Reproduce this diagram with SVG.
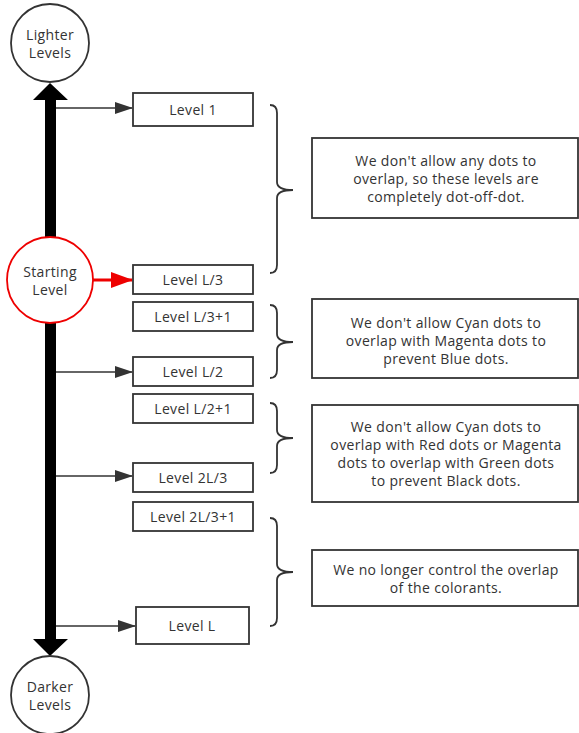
<svg xmlns="http://www.w3.org/2000/svg" width="579" height="733" viewBox="0 0 579 733">
<style>
text{font-family:"Open Sans","Noto Sans","DejaVu Sans",sans-serif;fill:#333;text-anchor:middle;font-size:14px;letter-spacing:0.35px}
.box{fill:#fff;stroke:#333;stroke-width:1.8}
.circ{fill:#fff;stroke:#333;stroke-width:1.8}
.conn{stroke:#333;stroke-width:1.5;fill:none}
.brace{stroke:#333;stroke-width:1.8;fill:none}
</style>
<defs>
<marker id="ah" markerWidth="18" markerHeight="12" refX="17" refY="6" orient="auto" markerUnits="userSpaceOnUse">
<path d="M0,0 L18,6 L0,12 Z" fill="#333"/>
</marker>
<marker id="ahr" markerWidth="22" markerHeight="16" refX="21" refY="8" orient="auto" markerUnits="userSpaceOnUse">
<path d="M0,0 L22,8 L0,16 Z" fill="#e00"/>
</marker>
</defs>
<g id="connectors">
<path d="M45,100 L33,100 L50,83 L68,100 L56,100 L56,639 L68,639 L50,656 L33,639 L45,639 Z" fill="#000"/>
<line class="conn" x1="56" y1="108" x2="132" y2="108" marker-end="url(#ah)"/>
<line class="conn" x1="56" y1="372" x2="132" y2="372" marker-end="url(#ah)"/>
<line class="conn" x1="56" y1="476" x2="132" y2="476" marker-end="url(#ah)"/>
<line class="conn" x1="56" y1="626" x2="135" y2="626" marker-end="url(#ah)"/>
<line x1="93" y1="280" x2="132" y2="280" stroke="#e00" stroke-width="3" marker-end="url(#ahr)"/>
<path class="brace" d="M270,105 Q277,105 277,113 L277,182 Q277,190 293,190 Q277,190 277,198 L277,265 Q277,273 270,273"/>
<path class="brace" d="M270,305 Q277,305 277,313 L277,334 Q277,342 293,342 Q277,342 277,350 L277,370 Q277,378 270,378"/>
<path class="brace" d="M270,403 Q277,403 277,411 L277,430 Q277,438 293,438 Q277,438 277,446 L277,465 Q277,473 270,473"/>
<path class="brace" d="M270,518 Q277,518 277,526 L277,564 Q277,572 293,572 Q277,572 277,580 L277,618 Q277,626 270,626"/>
</g>
<g id="lighter">
<circle class="circ" cx="50" cy="43" r="39"/>
<text x="50" y="40">Lighter</text>
<text x="50" y="58">Levels</text>
</g>
<g id="starting">
<circle cx="50" cy="280" r="43" fill="#fff" stroke="#e00" stroke-width="1.8"/>
<text x="50" y="277">Starting</text>
<text x="50" y="295">Level</text>
</g>
<g id="darker">
<circle class="circ" cx="50" cy="695" r="39"/>
<text x="50" y="692">Darker</text>
<text x="50" y="710">Levels</text>
</g>
<g id="level1"><rect class="box" x="133" y="93" width="120" height="33"/><text x="193" y="115">Level 1</text></g>
<g id="levelL3"><rect class="box" x="133" y="265" width="120" height="29"/><text x="193" y="285">Level L/3</text></g>
<g id="levelL3p1"><rect class="box" x="133" y="302" width="120" height="29"/><text x="193" y="322">Level L/3+1</text></g>
<g id="levelL2"><rect class="box" x="133" y="357" width="120" height="29"/><text x="193" y="377">Level L/2</text></g>
<g id="levelL2p1"><rect class="box" x="133" y="394" width="120" height="29"/><text x="193" y="414">Level L/2+1</text></g>
<g id="level2L3"><rect class="box" x="133" y="463" width="120" height="29"/><text x="193" y="483">Level 2L/3</text></g>
<g id="level2L3p1"><rect class="box" x="133" y="502" width="120" height="29"/><text x="193" y="522">Level 2L/3+1</text></g>
<g id="levelL"><rect class="box" x="136" y="607" width="113" height="37"/><text x="192" y="631">Level L</text></g>
<g id="note1"><rect class="box" x="312" y="138" width="266" height="80"/>
<text x="446" y="166">We don't allow any dots to</text>
<text x="446" y="184">overlap, so these levels are</text>
<text x="446" y="202">completely dot-off-dot.</text></g>
<g id="note2"><rect class="box" x="312" y="299" width="266" height="79"/>
<text x="446" y="328">We don't allow Cyan dots to</text>
<text x="446" y="346">overlap with Magenta dots to</text>
<text x="446" y="364">prevent Blue dots.</text></g>
<g id="note3"><rect class="box" x="312" y="405" width="266" height="97"/>
<text x="446" y="432">We don't allow Cyan dots to</text>
<text x="446" y="450">overlap with Red dots or Magenta</text>
<text x="446" y="468">dots to overlap with Green dots</text>
<text x="446" y="486">to prevent Black dots.</text></g>
<g id="note4"><rect class="box" x="312" y="550" width="266" height="56"/>
<text x="446" y="575">We no longer control the overlap</text>
<text x="446" y="593">of the colorants.</text></g>
</svg>
